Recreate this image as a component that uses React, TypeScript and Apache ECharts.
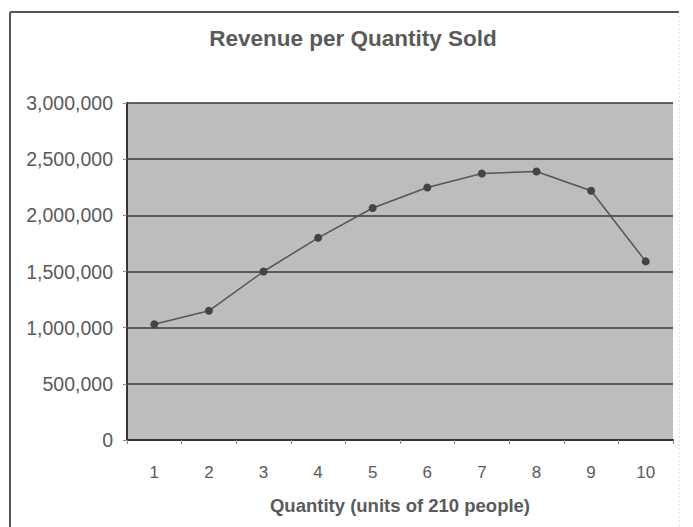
import React, { useEffect, useRef } from "react";
import * as echarts from "echarts";

const titleText = "Revenue per Quantity Sold";
const xAxisTitle = "Quantity (units of 210 people)";
const categories = ["1", "2", "3", "4", "5", "6", "7", "8", "9", "10"];
const revenue = [1030000, 1150000, 1500000, 1800000, 2065000, 2248000, 2373000, 2390000, 2219000, 1590000];
const yMin = 0;
const yMax = 3000000;
const yInterval = 500000;

export default function App() {
  const ref = useRef<HTMLDivElement>(null);
  useEffect(() => {
    document.body.style.margin = "0";
    const chart = echarts.init(ref.current!, null, { renderer: "svg" });
    const font = "'Liberation Sans', Arial, sans-serif";
    chart.setOption({
      animation: false,
      backgroundColor: "#ffffff",
      title: {
        text: titleText,
        left: 348,
        top: 22,
        textAlign: "center",
        textStyle: { fontFamily: font, fontSize: 22.5, fontWeight: "bold", color: "#5a5a5a" },
      },
      graphic: [
        { type: "line", shape: { x1: 10, y1: 12, x2: 10, y2: 527 }, style: { stroke: "#555", lineWidth: 2 } },
        { type: "line", shape: { x1: 10, y1: 12, x2: 679, y2: 12 }, style: { stroke: "#555", lineWidth: 2 } },
        { type: "line", shape: { x1: 679, y1: 12, x2: 679, y2: 527 }, style: { stroke: "#d8d8d8", lineWidth: 1, lineDash: [2, 2] } },
      ],
      grid: {
        left: 127,
        right: 20,
        top: 103,
        bottom: 87,
        show: true,
        backgroundColor: "#bdbdbd",
        borderWidth: 0,
      },
      xAxis: {
        type: "category",
        data: categories,
        boundaryGap: true,
        name: xAxisTitle,
        nameLocation: "middle",
        nameGap: 56,
        nameTextStyle: { fontFamily: font, fontSize: 18.5, fontWeight: "bold", color: "#5a5a5a" },
        axisLine: { lineStyle: { color: "#333", width: 2 } },
        axisTick: { show: true, alignWithLabel: false, length: 4, lineStyle: { color: "#888" } },
        axisLabel: { fontFamily: font, fontSize: 17, color: "#5a5a5a", margin: 24 },
      },
      yAxis: {
        type: "value",
        min: yMin,
        max: yMax,
        interval: yInterval,
        axisLine: { show: true, lineStyle: { color: "#333", width: 2 } },
        axisTick: { show: true, length: 4, lineStyle: { color: "#888" } },
        axisLabel: {
          fontFamily: font,
          fontSize: 19.5,
          color: "#5a5a5a",
          margin: 14,
          formatter: (v: number) => v.toLocaleString("en-US"),
        },
        splitLine: { show: true, lineStyle: { color: "#3a3a3a", width: 1.5 } },
      },
      series: [
        {
          type: "line",
          data: revenue,
          symbol: "circle",
          symbolSize: 8,
          itemStyle: { color: "#444" },
          lineStyle: { color: "#555", width: 1.5 },
        },
      ],
    });
    return () => chart.dispose();
  }, []);
  return <div ref={ref} style={{ width: 693, height: 527 }} />;
}
